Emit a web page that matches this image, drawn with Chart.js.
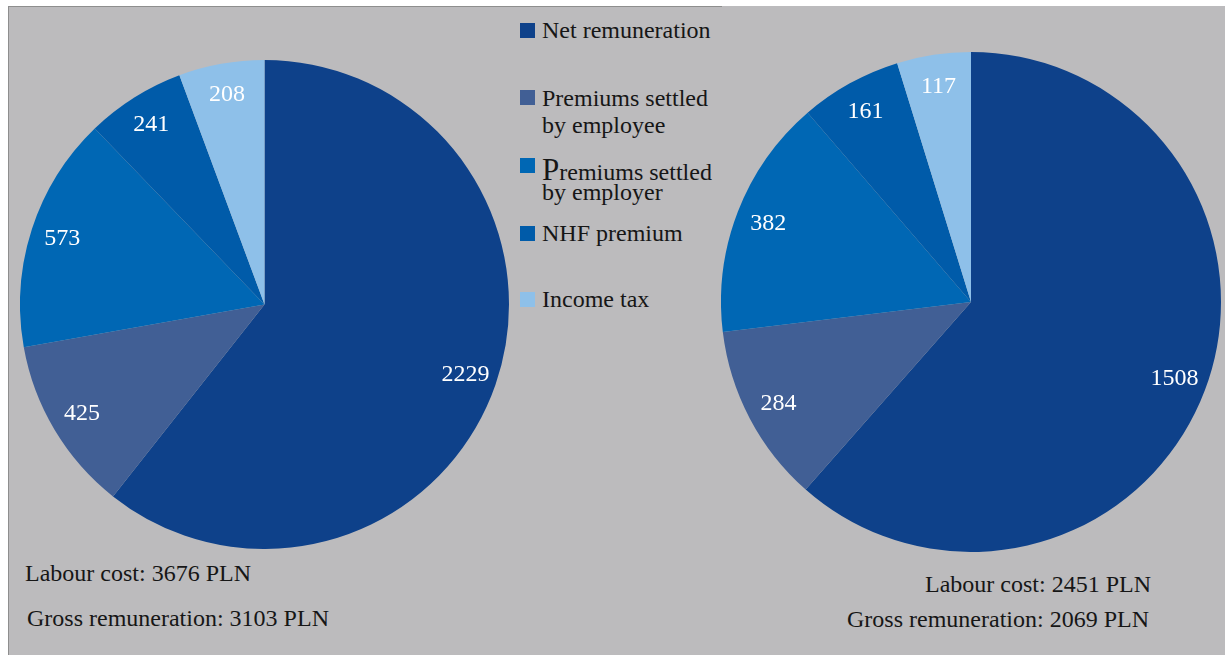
<!DOCTYPE html>
<html>
<head>
<meta charset="utf-8">
<script src="https://cdn.jsdelivr.net/npm/chart.js@4"></script>
<style>
  html, body { margin: 0; padding: 0; background: #fff; }
  body { width: 1225px; height: 655px; position: relative; overflow: hidden;
         font-family: "Liberation Serif", "Times New Roman", serif; color: #161616; }
  #panel { position: absolute; left: 8px; top: 6px; width: 1217px; height: 649px; background: #bcbbbd; }
  #topline { position: absolute; left: 8px; top: 6px; width: 714px; height: 1px; background: #8e8e8e; }
  #leftline { position: absolute; left: 8px; top: 6px; width: 1px; height: 649px; background: #8e8e8e; }
  canvas { position: absolute; }
  .txt { position: absolute; font-size: 24px; line-height: 24px; white-space: nowrap; }
  .big { font-size: 31px; line-height: 0; }
  .key { position: absolute; width: 15px; height: 15px; }
</style>
</head>
<body>
<div id="panel"></div>
<div id="topline"></div>
<div id="leftline"></div>
<canvas id="pieA" width="489" height="489" style="left:20px;top:60px"></canvas>
<canvas id="pieB" width="500" height="500" style="left:721px;top:52px"></canvas>
<div id="legend"></div>
<div class="txt" style="left:25px;top:561px">Labour cost: 3676 PLN</div>
<div class="txt" style="left:27px;top:606px">Gross remuneration: 3103 PLN</div>
<div class="txt" style="right:74px;top:572px">Labour cost: 2451 PLN</div>
<div class="txt" style="right:76px;top:607px">Gross remuneration: 2069 PLN</div>
<script>
const categories = ['Net remuneration', 'Premiums settled by employee', 'Premiums settled by employer', 'NHF premium', 'Income tax'];
const valuesA = [2229, 425, 573, 241, 208];
const valuesB = [1508, 284, 382, 161, 117];
const colors = ['#0e418a', '#415f95', '#0067b4', '#005ba9', '#8ec0e9'];

// white numbers sitting inside each slice
const sliceLabels = {
    id: 'sliceLabels',
    afterDatasetsDraw(chart) {
        const ctx = chart.ctx;
        const meta = chart.getDatasetMeta(0);
        const data = chart.data.datasets[0].data;
        ctx.save();
        ctx.fillStyle = '#ffffff';
        ctx.font = '24px "Liberation Serif", serif';
        ctx.textAlign = 'center';
        ctx.textBaseline = 'middle';
        meta.data.forEach((arc, i) => {
            const p = arc.getProps(['x', 'y', 'startAngle', 'endAngle', 'outerRadius'], true);
            const mid = (p.startAngle + p.endAngle) / 2;
            const r = p.outerRadius * 0.87;
            ctx.fillText(String(data[i]), p.x + Math.cos(mid) * r, p.y + Math.sin(mid) * r);
        });
        ctx.restore();
    }
};

function makePie(id, values) {
    return new Chart(document.getElementById(id), {
        type: 'pie',
        data: {
            labels: categories,
            datasets: [{ data: values, backgroundColor: colors, borderWidth: 0 }]
        },
        options: {
            responsive: false,
            animation: false,
            layout: { padding: 0 },
            plugins: { legend: { display: false }, tooltip: { enabled: false } }
        },
        plugins: [sliceLabels]
    });
}

makePie('pieA', valuesA);
makePie('pieB', valuesB);

// legend in the middle, hand placed lines
const legendRows = [
    { top: 23, lines: [['Net remuneration', 18]] },
    { top: 90, lines: [['Premiums settled', 86], ['by employee', 113]] },
    { top: 158, lines: [['<span class="big">P</span>remiums settled', 160], ['by employer', 180]] },
    { top: 226, lines: [['NHF premium', 221]] },
    { top: 292, lines: [['Income tax', 287]] }
];
const legend = document.getElementById('legend');
legendRows.forEach((row, i) => {
    const box = document.createElement('div');
    box.className = 'key';
    box.style.left = '520px';
    box.style.top = row.top + 'px';
    box.style.background = colors[i];
    legend.appendChild(box);
    row.lines.forEach(([text, top]) => {
        const t = document.createElement('div');
        t.className = 'txt';
        t.style.left = '542px';
        t.style.top = top + 'px';
        t.innerHTML = text;
        legend.appendChild(t);
    });
});
</script>
</body>
</html>
